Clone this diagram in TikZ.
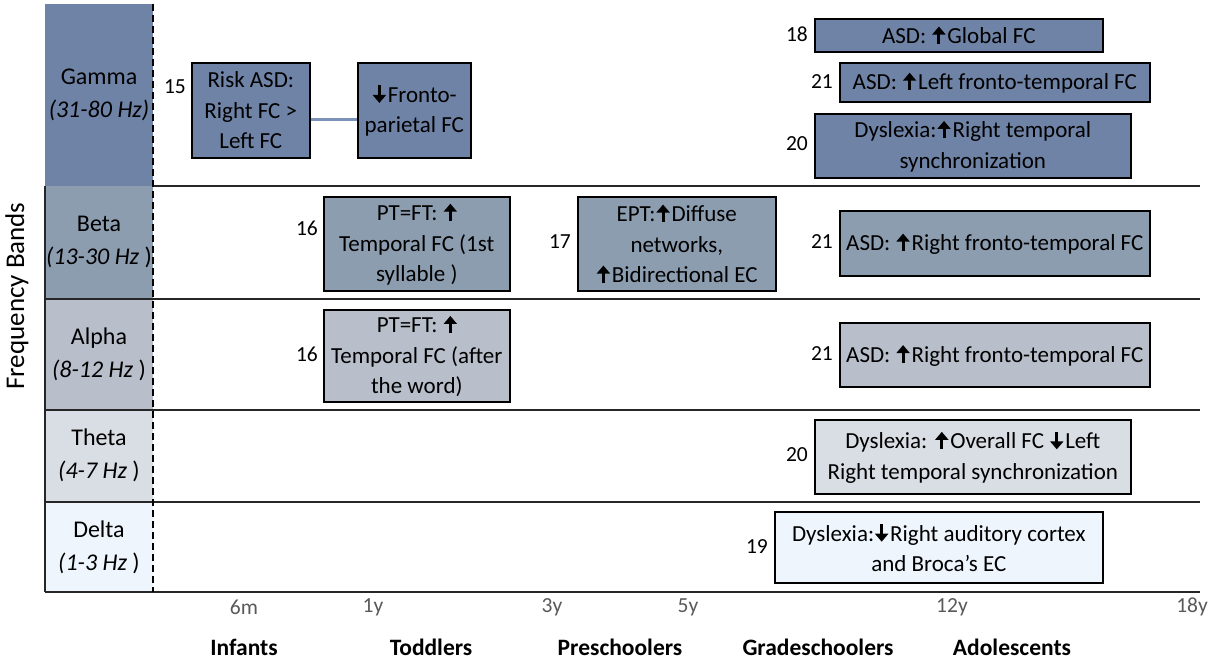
\documentclass[tikz,border=0pt]{standalone}
\usepackage{fontspec}
\usetikzlibrary{arrows.meta}
\setmainfont{Carlito}
\newcommand{\uar}{\hspace{1pt}\tikz[baseline=0pt]{\draw[line width=3pt,-{Triangle[length=8pt,width=13pt]}] (0pt,-0.5pt) -- (0pt,17pt);}\hspace{2pt}}
\newcommand{\dar}{\hspace{1pt}\tikz[baseline=0pt]{\draw[line width=3pt,-{Triangle[length=8pt,width=13pt]}] (0pt,17pt) -- (0pt,-0.5pt);}\hspace{2pt}}
\definecolor{cgamma}{HTML}{6F83A6}
\definecolor{cbeta}{HTML}{8D9DB0}
\definecolor{calpha}{HTML}{B8BFCB}
\definecolor{ctheta}{HTML}{D9DDE4}
\definecolor{cdelta}{HTML}{EEF5FD}
\definecolor{clink}{HTML}{7B93B8}
\definecolor{caxis}{HTML}{595959}
\begin{document}
\begin{tikzpicture}[x=1pt,y=-1pt,
  txt/.style={font=\fontsize{23}{30.5}\selectfont, align=center, inner sep=0pt},
  fbox/.style={txt, draw=black, line width=1.6pt, anchor=north west},
  refnum/.style={font=\fontsize{21.5}{24}\selectfont, inner sep=0pt},
  bandlbl/.style={font=\fontsize{24}{33}\selectfont, align=center, inner sep=0pt},
  age/.style={font=\fontsize{21.5}{24}\selectfont, text=caxis, inner sep=0pt},
  grp/.style={font=\fontsize{23.5}{26}\selectfont\bfseries, inner sep=0pt},
  sep/.style={line width=1.4pt, draw=black!85},
  link/.style={line width=3pt, draw=clink}]
\useasboundingbox (0,0) rectangle (1215,666);
% band column
\fill[cgamma] (45,4) rectangle (153,186);
\fill[cbeta] (45,186) rectangle (153,299);
\fill[calpha] (45,299) rectangle (153,410);
\fill[ctheta] (45,410) rectangle (153,502);
\fill[cdelta] (45,502) rectangle (153,592);
% separators
\draw[sep] (153,186) -- (1200,186);
\draw[sep] (45,299) -- (1200,299);
\draw[sep] (45,410) -- (1200,410);
\draw[sep] (45,502) -- (1200,502);
\draw[sep] (45,592) -- (1200,592);
\draw[sep] (45,186) -- (45,592);
\draw[line width=1.8pt, dash pattern=on 7pt off 4pt] (153,4) -- (153,592);
% band labels
\node[bandlbl] (lg) at (99,95) {Gamma\\{\itshape (31-80 Hz)}};
\node[bandlbl] (lb) at (99,242) {Beta\\{\itshape (13-30 Hz} )};
\node[bandlbl] (la) at (99,354) {Alpha\\{\itshape (8-12 Hz} )};
\node[bandlbl] (lt) at (99,455) {Theta\\{\itshape (4-7 Hz} )};
\node[bandlbl] (ld) at (99,547) {Delta\\{\itshape (1-3 Hz} )};
\node[font=\fontsize{27}{30}\selectfont, rotate=90, inner sep=0pt] (fb) at (17,296) {Frequency Bands};
% gamma boxes
\node[fbox, fill=cgamma, minimum width=118pt, minimum height=95pt] (g1) at (191,62) {Risk ASD:\\Right FC >\\Left FC};
\node[refnum, anchor=east] (n15) at (186,87) {15};
\node[fbox, fill=cgamma, minimum width=113pt, minimum height=95pt] (g2) at (357,62) {\dar Fronto-\\parietal FC};
\draw[link] ([yshift=-9pt]g1.east) -- ([yshift=-9pt]g2.west);
\node[fbox, fill=cgamma, minimum width=288pt, minimum height=33pt] (g3) at (814,18) {ASD: \uar Global FC};
\node[refnum, anchor=east] (n18) at (808,34) {18};
\node[fbox, fill=cgamma, minimum width=310pt, minimum height=39pt] (g4) at (839,62) {ASD: \uar Left fronto-temporal FC};
\node[refnum, anchor=east] (n21a) at (833,82) {21};
\node[fbox, fill=cgamma, minimum width=316pt, minimum height=64pt] (g5) at (814,113) {Dyslexia:\uar Right temporal\\synchronization};
\node[refnum, anchor=east] (n20a) at (808,144) {20};
% beta boxes
\node[fbox, fill=cbeta, minimum width=186pt, minimum height=94pt] (b1) at (323,196) {PT=FT: \uar\\Temporal FC (1st\\syllable )};
\node[refnum, anchor=east] (n16a) at (318,228) {16};
\node[fbox, fill=cbeta, minimum width=198pt, minimum height=94pt] (b2) at (577,196) {EPT:\uar Diffuse\\networks,\\\uar Bidirectional EC};
\node[refnum, anchor=east] (n17) at (571,242) {17};
\node[fbox, fill=cbeta, minimum width=310pt, minimum height=65pt] (b3) at (839,210) {ASD: \uar Right fronto-temporal FC};
\node[refnum, anchor=east] (n21b) at (833,242) {21};
% alpha boxes
\node[fbox, fill=calpha, minimum width=186pt, minimum height=92pt] (a1) at (323,309) {PT=FT: \uar\\Temporal FC (after\\the word)};
\node[refnum, anchor=east] (n16b) at (318,354) {16};
\node[fbox, fill=calpha, minimum width=310pt, minimum height=64pt] (a2) at (839,322) {ASD: \uar Right fronto-temporal FC};
\node[refnum, anchor=east] (n21c) at (833,354) {21};
% theta box
\node[fbox, fill=ctheta, minimum width=316pt, minimum height=74pt] (t1) at (814,419) {Dyslexia: \uar Overall FC \dar Left\\Right temporal synchronization};
\node[refnum, anchor=east] (n20b) at (808,455) {20};
% delta box
\node[fbox, fill=cdelta, minimum width=328pt, minimum height=71pt] (d1) at (774,511) {Dyslexia:\dar Right auditory cortex\\and Broca{\char"27}s EC};
\node[refnum, anchor=east] (n19) at (768,547) {19};
% ages
\node[age] (a6m) at (244,607) {6m};
\node[age] (a1y) at (373,607) {1y};
\node[age] (a3y) at (552,607) {3y};
\node[age] (a5y) at (688,607) {5y};
\node[age] (a12y) at (952,607) {12y};
\node[age] (a18y) at (1192,607) {18y};
% groups
\node[grp] (ginf) at (244,647) {Infants};
\node[grp] (gtod) at (431,647) {Toddlers};
\node[grp] (gpre) at (620,647) {Preschoolers};
\node[grp] (ggra) at (818,647) {Gradeschoolers};
\node[grp] (gado) at (1012,647) {Adolescents};
\end{tikzpicture}
\end{document}
